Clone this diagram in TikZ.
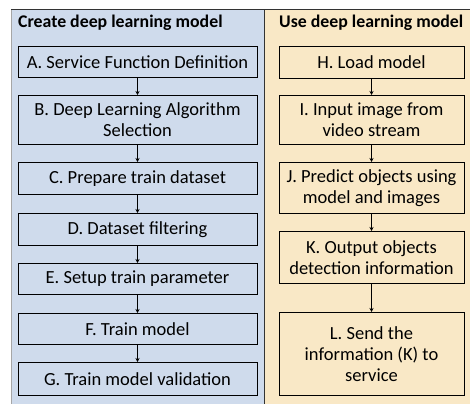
\documentclass[tikz,border=0pt]{standalone}
\usepackage{fontspec}
\setmainfont{Carlito}
\usetikzlibrary{arrows.meta}
\def\mleftx{137.5}
\def\mleftw{239}
\def\mrightx{371.5}
\def\mrightw{185}
\definecolor{createblue}{HTML}{CFDBEC}
\definecolor{usebeige}{HTML}{F9E8C6}
\tikzset{stepbox/.style={draw, line width=1pt, anchor=north, align=center, inner sep=0pt, font=\fontsize{18.5}{21}\selectfont},
	steparrow/.style={-{Stealth[length=4pt,width=4pt]}, line width=0.7pt},
	paneltitle/.style={anchor=west, inner sep=0pt, font=\fontsize{17.8}{21}\selectfont\bfseries}}

\begin{document}
\begin{tikzpicture}[x=1pt, y=-1pt]
		\useasboundingbox (0,0) rectangle (470,404);
		\fill[createblue] (11,10) rectangle (264,404);
		\fill[usebeige] (264,10) rectangle (470,404);
		\draw[gray!70, line width=1pt] (11,10) -- (11,404);
		\draw[black!80, line width=1pt] (11,10) -- (470,10);
		\draw[black!80, line width=1pt] (264,10) -- (264,404);
		\node[paneltitle] (create) at (18,23) {Create deep learning model};
		\node[paneltitle] (use) at (279,23) {Use deep learning model};
		% Create deep learning model
		\node[stepbox, minimum width=\mleftw, minimum height=31] (a) at (\mleftx,46) {A. Service Function Definition};
		\node[stepbox, minimum width=\mleftw, minimum height=49] (b) at (\mleftx,95) {B. Deep Learning Algorithm\\Selection};
		\node[stepbox, minimum width=\mleftw, minimum height=32] (c) at (\mleftx,162) {C. Prepare train dataset};
		\node[stepbox, minimum width=\mleftw, minimum height=32] (d) at (\mleftx,213) {D. Dataset filtering};
		\node[stepbox, minimum width=\mleftw, minimum height=31] (e) at (\mleftx,263) {E. Setup train parameter};
		\node[stepbox, minimum width=\mleftw, minimum height=31] (f) at (\mleftx,313) {F. Train model};
		\node[stepbox, minimum width=\mleftw, minimum height=33] (g) at (\mleftx,362) {G. Train model validation};
		% Use deep learning model
		\node[stepbox, minimum width=\mrightw, minimum height=32] (h) at (\mrightx,46) {H. Load model};
		\node[stepbox, minimum width=\mrightw, minimum height=49] (i) at (\mrightx,95) {I. Input image from\\video stream};
		\node[stepbox, minimum width=\mrightw, minimum height=51] (j) at (\mrightx,162) {J. Predict objects using\\model and images};
		\node[stepbox, minimum width=\mrightw, minimum height=52] (k) at (\mrightx,231) {K. Output objects\\detection information};
		\node[stepbox, minimum width=\mrightw, minimum height=83] (l) at (\mrightx,312) {L. Send the\\information (K) to\\service};
		\foreach \mfrom/\mto in {a/b, b/c, c/d, d/e, e/f, f/g, h/i, i/j, j/k, k/l}
			\draw[steparrow] (\mfrom.south) -- (\mto.north);
	\end{tikzpicture}
\end{document}
